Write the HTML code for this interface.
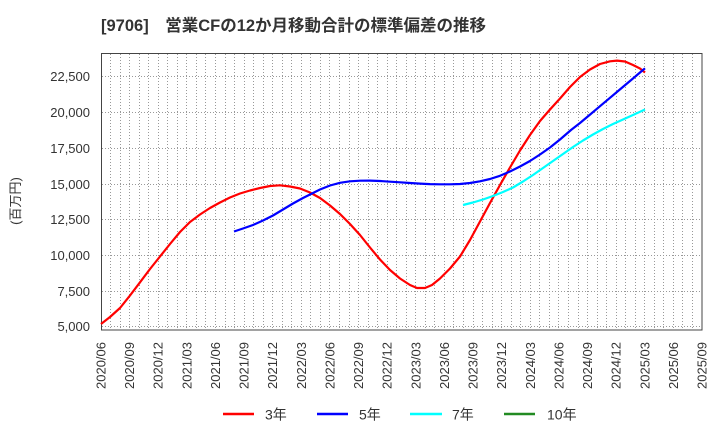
<!DOCTYPE html>
<html><head><meta charset="utf-8"><style>
html,body{margin:0;padding:0;background:#fff;}
svg{display:block;}
text{font-family:"Liberation Sans","Noto Sans CJK JP",sans-serif;fill:#333;}
</style></head><body>
<svg width="720" height="440" viewBox="0 0 720 440" xmlns="http://www.w3.org/2000/svg">
<text x="101" y="31" font-size="16.5" font-weight="bold">[9706]&#12288;営業CFの12か月移動合計の標準偏差の推移</text>
<g stroke="#999" stroke-width="1" stroke-dasharray="1,2" fill="none">
<path d="M110.5 54V330M120.5 54V330M129.5 54V330M139.5 54V330M148.5 54V330M158.5 54V330M167.5 54V330M177.5 54V330M186.5 54V330M196.5 54V330M205.5 54V330M215.5 54V330M225.5 54V330M234.5 54V330M244.5 54V330M253.5 54V330M263.5 54V330M272.5 54V330M282.5 54V330M291.5 54V330M301.5 54V330M310.5 54V330M320.5 54V330M329.5 54V330M339.5 54V330M349.5 54V330M358.5 54V330M368.5 54V330M377.5 54V330M387.5 54V330M396.5 54V330M406.5 54V330M415.5 54V330M425.5 54V330M434.5 54V330M444.5 54V330M453.5 54V330M463.5 54V330M473.5 54V330M482.5 54V330M492.5 54V330M501.5 54V330M511.5 54V330M520.5 54V330M530.5 54V330M539.5 54V330M549.5 54V330M558.5 54V330M568.5 54V330M578.5 54V330M587.5 54V330M597.5 54V330M606.5 54V330M616.5 54V330M625.5 54V330M635.5 54V330M644.5 54V330M654.5 54V330M663.5 54V330M673.5 54V330M682.5 54V330M692.5 54V330"/>
<path d="M102 326.5H702M102 291.5H702M102 255.5H702M102 219.5H702M102 184.5H702M102 148.5H702M102 112.5H702M102 76.5H702"/>
</g>
<rect x="101.5" y="53.5" width="600.5" height="276.5" fill="none" stroke="#444" stroke-width="1"/>
<g font-size="13" text-anchor="end">
<text x="90" y="331">5,000</text>
<text x="90" y="296">7,500</text>
<text x="90" y="260">10,000</text>
<text x="90" y="224">12,500</text>
<text x="90" y="189">15,000</text>
<text x="90" y="153">17,500</text>
<text x="90" y="117">20,000</text>
<text x="90" y="81">22,500</text>
</g>
<text transform="translate(20,201) rotate(-90)" font-size="13" text-anchor="middle">(百万円)</text>
<g font-size="13" text-anchor="end">
<text transform="translate(105.5,342) rotate(-90)">2020/06</text>
<text transform="translate(134.1,342) rotate(-90)">2020/09</text>
<text transform="translate(162.7,342) rotate(-90)">2020/12</text>
<text transform="translate(191.4,342) rotate(-90)">2021/03</text>
<text transform="translate(220,342) rotate(-90)">2021/06</text>
<text transform="translate(248.6,342) rotate(-90)">2021/09</text>
<text transform="translate(277.2,342) rotate(-90)">2021/12</text>
<text transform="translate(305.8,342) rotate(-90)">2022/03</text>
<text transform="translate(334.5,342) rotate(-90)">2022/06</text>
<text transform="translate(363.1,342) rotate(-90)">2022/09</text>
<text transform="translate(391.7,342) rotate(-90)">2022/12</text>
<text transform="translate(420.3,342) rotate(-90)">2023/03</text>
<text transform="translate(448.9,342) rotate(-90)">2023/06</text>
<text transform="translate(477.6,342) rotate(-90)">2023/09</text>
<text transform="translate(506.2,342) rotate(-90)">2023/12</text>
<text transform="translate(534.8,342) rotate(-90)">2024/03</text>
<text transform="translate(563.4,342) rotate(-90)">2024/06</text>
<text transform="translate(592,342) rotate(-90)">2024/09</text>
<text transform="translate(620.7,342) rotate(-90)">2024/12</text>
<text transform="translate(649.3,342) rotate(-90)">2025/03</text>
<text transform="translate(677.9,342) rotate(-90)">2025/06</text>
<text transform="translate(706.5,342) rotate(-90)">2025/09</text>
</g>
<g fill="none" stroke-width="2.2" stroke-linejoin="round" stroke-linecap="butt">
<polyline stroke="#ff0000" points="101,324 110,317 120,308 130,295.5 140,282.3 150,269 160,256.5 170,244 180,232 190,222 200,214.5 210,208 220,202.5 230,197.5 240,193.5 250,190.5 260,188 270,186 280,185.3 290,186.5 300,188.5 310,192.5 320,198 330,205.5 340,214 350,224 360,235 370,247.5 380,259.5 390,270 400,278.5 410,285 417,288 425,288 432,285 440,278.5 450,268.5 460,256.5 470,240 480,221.5 490,203 500,185 510,167.5 520,150.5 530,135 540,121 550,109.5 560,98.5 570,87 580,77 590,69.5 600,64 610,61.3 617,60.6 625,61.5 633,65 640,68.5 645,72.5"/>
<polyline stroke="#0000ff" points="234,231.5 243,228.5 253,225 263,220.5 273,215.5 283,209.5 293,203.5 303,198 313,193 320,189.5 330,185.5 340,182.8 350,181.3 360,180.7 370,180.6 380,181 390,181.7 400,182.3 410,183 420,183.6 430,184.1 440,184.3 450,184.3 460,184 470,183 480,181.3 490,179 500,175.8 510,171.5 520,166.5 530,161 540,154.5 550,147.5 560,139.5 571,130 580,123 590,114.6 600,106.2 610,97.8 620,89.4 630,81 640,72.5 645,68.3"/>
<polyline stroke="#00ffff" points="463,205 473,202.5 483,199.5 493,196 503,192 513,187.5 523,181.5 533,175 543,168 553,161 563,154 573,147 583,140.5 593,134.5 603,129 613,124 623,119.5 633,115 645,109.5"/>
</g>
<g stroke-width="2.5">
<line x1="223" y1="414" x2="254" y2="414" stroke="#ff0000"/>
<line x1="317" y1="414" x2="348" y2="414" stroke="#0000ff"/>
<line x1="410" y1="414" x2="442" y2="414" stroke="#00ffff"/>
<line x1="504" y1="414" x2="535" y2="414" stroke="#228b22"/>
</g>
<g font-size="14">
<text x="265" y="419.5">3年</text>
<text x="359" y="419.5">5年</text>
<text x="452" y="419.5">7年</text>
<text x="547" y="419.5">10年</text>
</g>
</svg>
</body></html>
